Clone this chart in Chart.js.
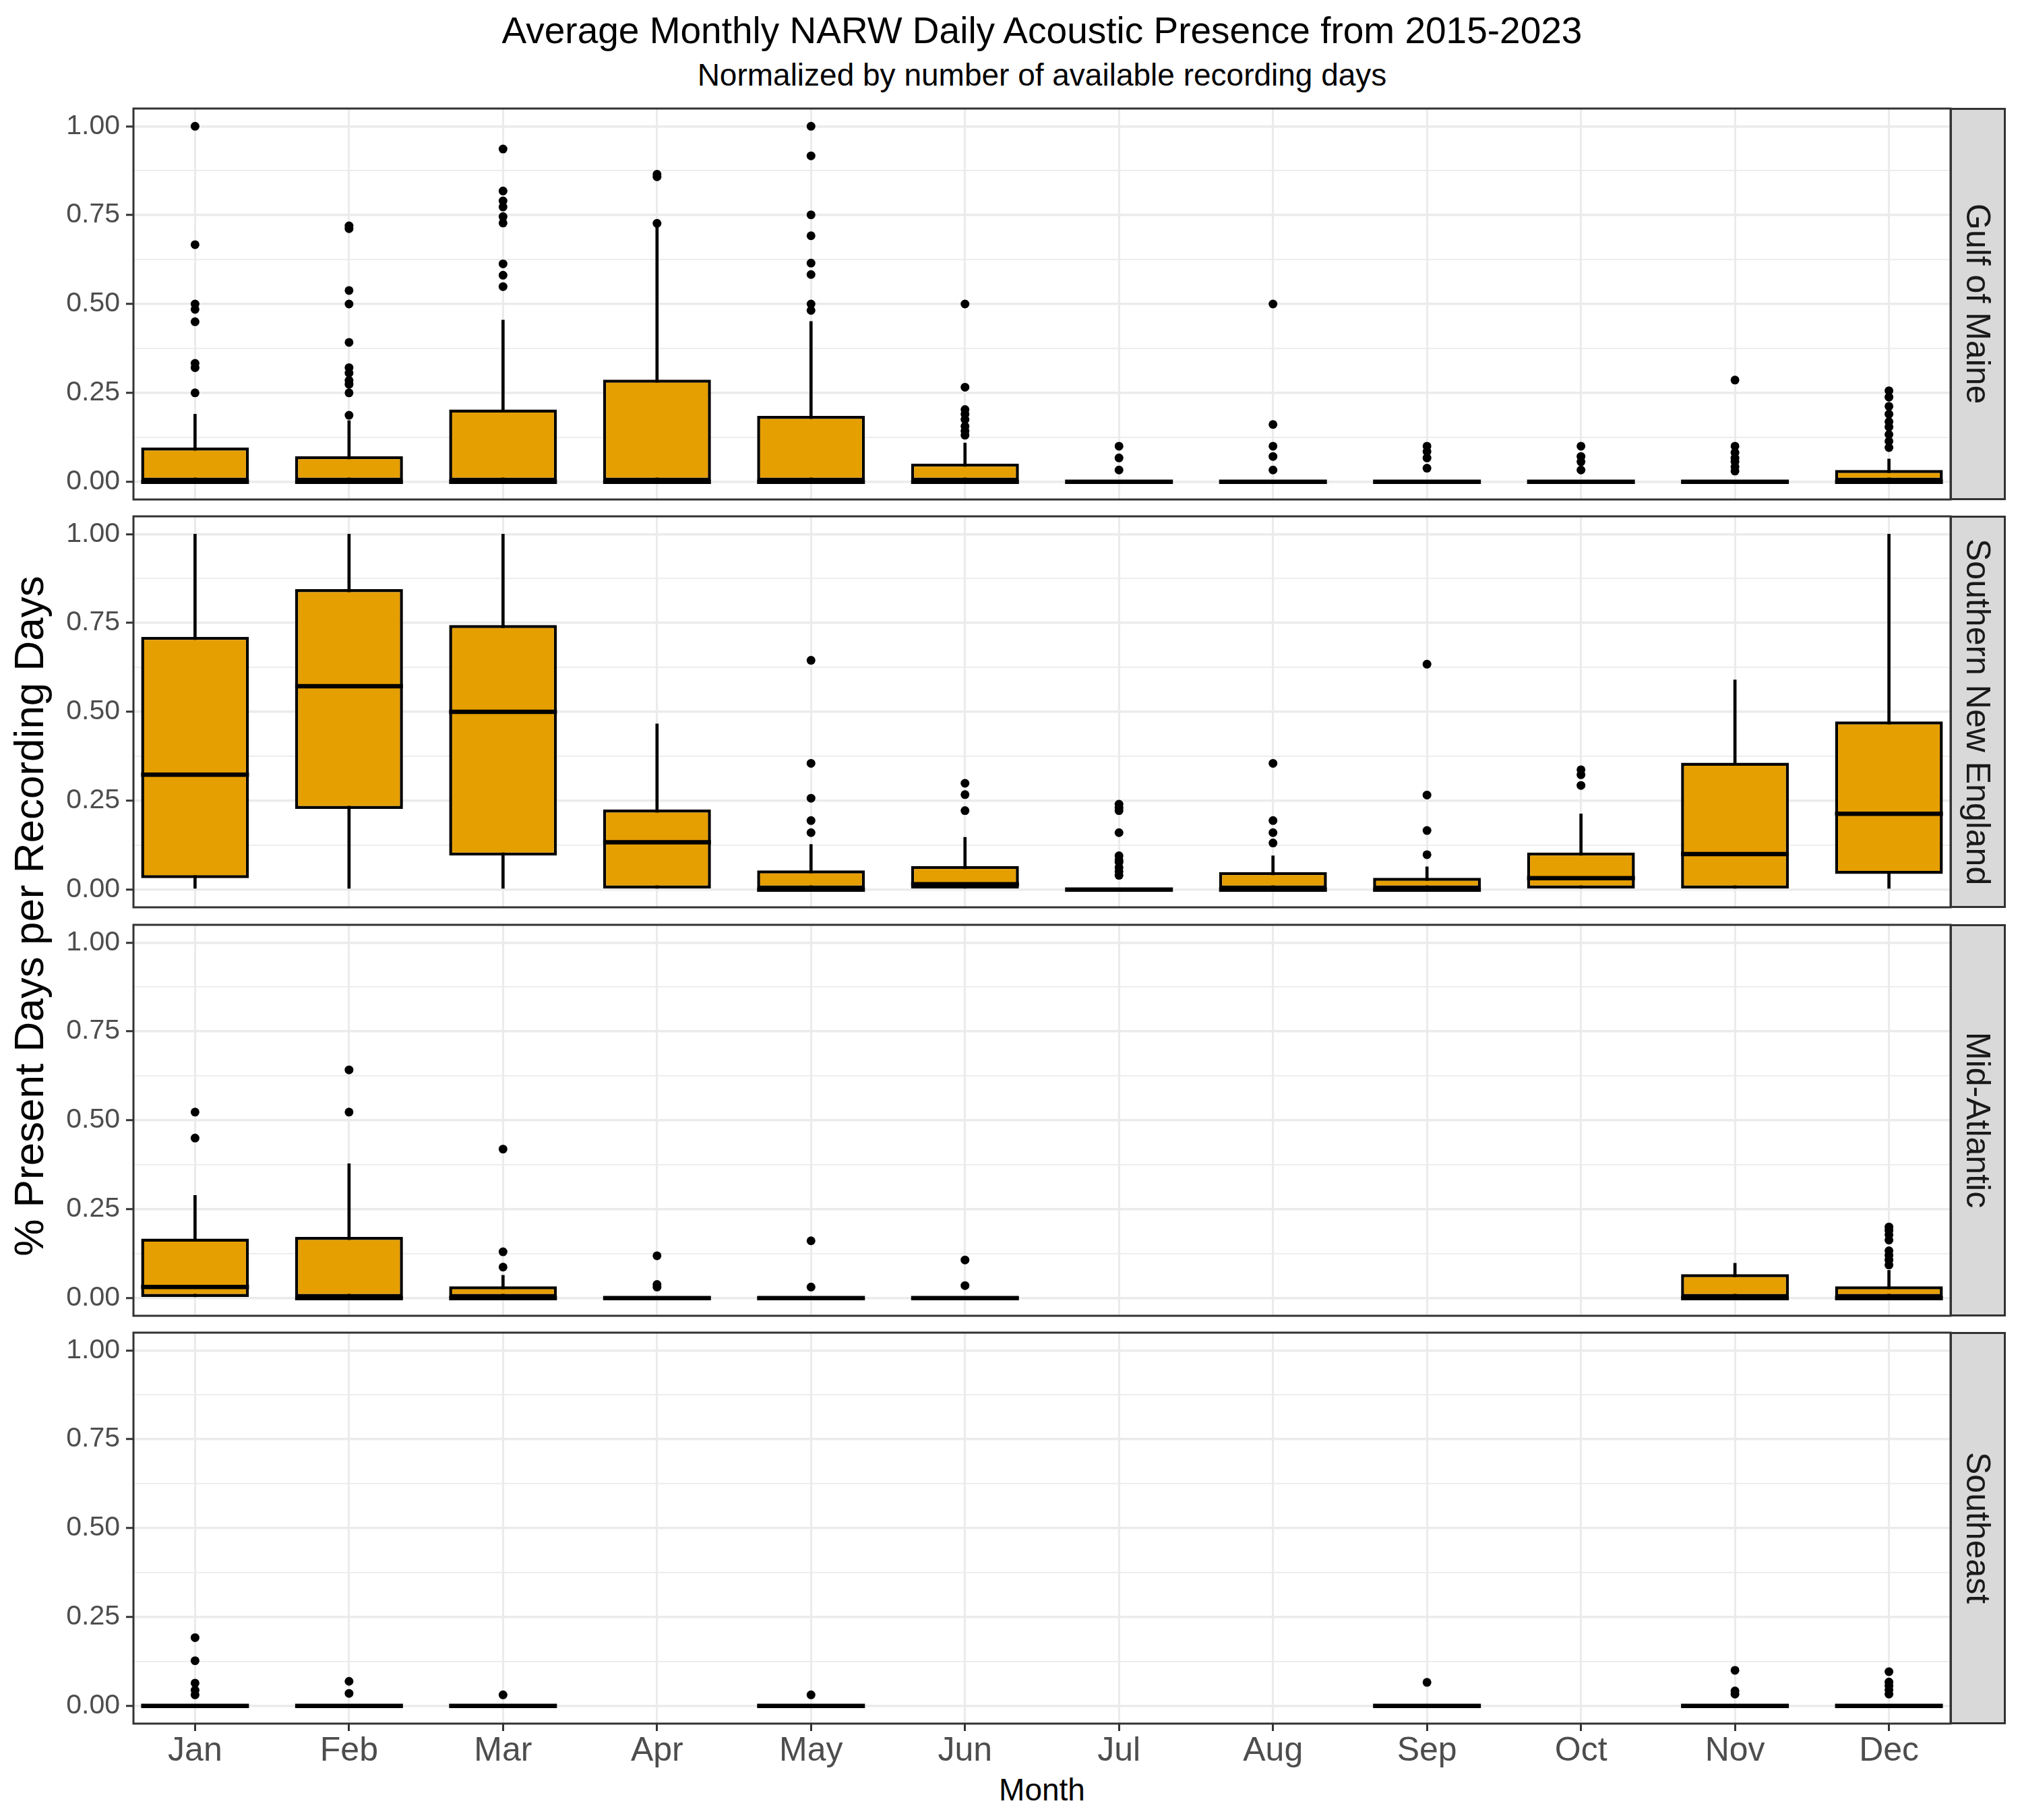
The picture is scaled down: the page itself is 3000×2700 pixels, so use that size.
<!DOCTYPE html>
<html>
<head>
<meta charset="utf-8">
<script src="https://cdn.jsdelivr.net/npm/chart.js@4.4.0/dist/chart.umd.min.js"></script>
<style>
  html, body { margin: 0; padding: 0; background: #fff; }
  #page { position: relative; width: 3000px; height: 2700px; background: #fff; overflow: hidden;
          font-family: 'Liberation Sans', Arial, sans-serif; }
  canvas { position: absolute; left: 0; }
  .txt { position: absolute; white-space: nowrap; line-height: 1; text-align: center; color: #000; }
  .strip { position: absolute; box-sizing: border-box; background: #d9d9d9; border: 3px solid #333;
           display: flex; align-items: center; justify-content: center; }
  .strip span { writing-mode: vertical-rl; font-size: 50px; color: #1a1a1a; line-height: 1; white-space: nowrap; }
</style>
</head>
<body>
<div id="page">
  <div class="txt" style="left:546px;width:2000px;top:18px;font-size:55px;">Average Monthly NARW Daily Acoustic Presence from 2015-2023</div>
  <div class="txt" style="left:546px;width:2000px;top:88px;font-size:46px;">Normalized by number of available recording days</div>
  <div class="txt" style="left:-557px;width:1200px;top:1328px;font-size:62px;transform:rotate(-90deg);">% Present Days per Recording Days</div>
  <div class="txt" style="left:1346px;width:400px;top:2632px;font-size:46px;">Month</div>
</div>
<script>
// Месяцы и регионы
const months = ["Jan", "Feb", "Mar", "Apr", "May", "Jun", "Jul", "Aug", "Sep", "Oct", "Nov", "Dec"];
const regions = ["Gulf of Maine", "Southern New England", "Mid-Atlantic", "Southeast"];
const yMajor = [0, 0.25, 0.5, 0.75, 1];
const yMinor = [0.125, 0.375, 0.625, 0.875];

// Gulf of Maine
const gomLo  = [0, 0, 0, 0, 0, 0, 0, 0, 0, 0, 0, 0];
const gomQ1  = [0, 0, 0, 0, 0, 0, 0, 0, 0, 0, 0, 0];
const gomMed = [0, 0, 0, 0, 0, 0, 0, 0, 0, 0, 0, 0];
const gomQ3  = [0.096, 0.072, 0.203, 0.287, 0.185, 0.051, 0, 0, 0, 0, 0, 0.033];
const gomHi  = [0.19, 0.172, 0.455, 0.72, 0.451, 0.109, 0, 0, 0, 0, 0, 0.064];
const gomOut = [
  [1.0, 0.667, 0.5, 0.485, 0.45, 0.333, 0.321, 0.25],
  [0.72, 0.712, 0.538, 0.5, 0.392, 0.321, 0.306, 0.285, 0.274, 0.25, 0.187],
  [0.936, 0.818, 0.79, 0.773, 0.746, 0.728, 0.613, 0.581, 0.549],
  [0.865, 0.858, 0.727],
  [1.0, 0.917, 0.751, 0.692, 0.615, 0.583, 0.5, 0.482],
  [0.5, 0.266, 0.203, 0.19, 0.175, 0.156, 0.143, 0.131],
  [0.1, 0.067, 0.033],
  [0.5, 0.161, 0.1, 0.071, 0.033],
  [0.1, 0.085, 0.067, 0.038],
  [0.1, 0.071, 0.056, 0.033],
  [0.286, 0.1, 0.082, 0.067, 0.056, 0.042, 0.03],
  [0.256, 0.238, 0.212, 0.19, 0.169, 0.154, 0.133, 0.114, 0.096]
];

// Southern New England
const sneLo  = [0, 0, 0, 0, 0, 0, 0, 0, 0, 0, 0, 0];
const sneQ1  = [0.032, 0.227, 0.0955, 0, 0, 0, 0, 0, 0, 0, 0, 0.044];
const sneMed = [0.323, 0.572, 0.5, 0.133, 0, 0.015, 0, 0, 0, 0.032, 0.1, 0.213];
const sneQ3  = [0.711, 0.845, 0.744, 0.225, 0.054, 0.066, 0, 0.049, 0.033, 0.104, 0.357, 0.473];
const sneHi  = [1, 1, 1, 0.466, 0.127, 0.147, 0, 0.095, 0.064, 0.213, 0.59, 1];
const sneOut = [
  [], [], [], [],
  [0.645, 0.355, 0.257, 0.194, 0.16],
  [0.299, 0.267, 0.222],
  [0.24, 0.23, 0.222, 0.16, 0.095, 0.083, 0.077, 0.062, 0.051, 0.04],
  [0.355, 0.194, 0.16, 0.131],
  [0.634, 0.266, 0.166, 0.098],
  [0.337, 0.323, 0.293],
  [], []
];

// Mid-Atlantic
const midLo  = [0, 0, 0, 0, 0, 0, null, null, null, null, 0, 0];
const midQ1  = [0, 0, 0, 0, 0, 0, null, null, null, null, 0, 0];
const midMed = [0.031, 0, 0, 0, 0, 0, null, null, null, null, 0, 0];
const midQ3  = [0.167, 0.172, 0.033, 0, 0, 0, null, null, null, null, 0.067, 0.033];
const midHi  = [0.289, 0.378, 0.064, 0, 0, 0, null, null, null, null, 0.098, 0.078];
const midOut = [
  [0.523, 0.45],
  [0.642, 0.523],
  [0.419, 0.13, 0.087],
  [0.119, 0.038, 0.031],
  [0.161, 0.031],
  [0.107, 0.035],
  [], [], [], [], [],
  [0.2, 0.19, 0.178, 0.163, 0.133, 0.12, 0.107, 0.093]
];

// Southeast
const seLo  = [0, 0, 0, null, 0, null, null, null, 0, null, 0, 0];
const seQ1  = [0, 0, 0, null, 0, null, null, null, 0, null, 0, 0];
const seMed = [0, 0, 0, null, 0, null, null, null, 0, null, 0, 0];
const seQ3  = [0, 0, 0, null, 0, null, null, null, 0, null, 0, 0];
const seHi  = [0, 0, 0, null, 0, null, null, null, 0, null, 0, 0];
const seOut = [
  [0.192, 0.127, 0.064, 0.044, 0.031],
  [0.069, 0.035],
  [0.031],
  [],
  [0.031],
  [], [], [],
  [0.066],
  [],
  [0.1, 0.042, 0.033],
  [0.096, 0.067, 0.056, 0.045, 0.033]
];

const panels = [
  { name: regions[0], lo: gomLo, q1: gomQ1, med: gomMed, q3: gomQ3, hi: gomHi, out: gomOut },
  { name: regions[1], lo: sneLo, q1: sneQ1, med: sneMed, q3: sneQ3, hi: sneHi, out: sneOut },
  { name: regions[2], lo: midLo, q1: midQ1, med: midMed, q3: midQ3, hi: midHi, out: midOut },
  { name: regions[3], lo: seLo,  q1: seQ1,  med: seMed,  q3: seQ3,  hi: seHi,  out: seOut }
];

// раскладка
const PANEL_TOP = [161, 766, 1372, 1977];
const PANEL_H = 580;
const PLOT_LEFT = 198;
const PLOT_RIGHT = 2894;
const X_AXIS_H = 143;
const FILL = "#E69F00";

const monthPos = months.map((m, i) => i + 1);
const yTicks = [...yMajor, ...yMinor].sort((a, b) => a - b);
const isMajor = (v) => Math.abs(v * 4 - Math.round(v * 4)) < 1e-9;

function ranges(lo, hi) {
  return months.map((m, i) => lo[i] == null ? null : { x: i + 1, y: [lo[i], hi[i]] }).filter(Boolean);
}
function points(vals) {
  return months.map((m, i) => vals[i] == null ? null : { x: i + 1, y: vals[i] }).filter(Boolean);
}
function outPoints(out) {
  const pts = [];
  out.forEach((vs, i) => vs.forEach((v) => pts.push({ x: i + 1, y: v })));
  return pts;
}

const panelBorder = {
  id: "panelBorder",
  afterDraw(chart) {
    const { ctx, chartArea: a } = chart;
    ctx.save();
    ctx.strokeStyle = "#333";
    ctx.lineWidth = 3;
    ctx.strokeRect(a.left, a.top, a.right - a.left, a.bottom - a.top);
    ctx.restore();
  }
};

// без автопаддинга меток: область графика ровно по панели
function noPad(a) {
  a.paddingTop = 0; a.paddingBottom = 0; a.paddingLeft = 0; a.paddingRight = 0;
}

Chart.defaults.font.family = "'Liberation Sans', Arial, sans-serif";
const page = document.getElementById("page");

panels.forEach((p, k) => {
  const last = k === panels.length - 1;
  const padT = 3, padR = 3, padB = last ? 0 : 3;
  const cv = document.createElement("canvas");
  cv.width = PLOT_RIGHT + padR;
  cv.height = padT + PANEL_H + (last ? X_AXIS_H : padB);
  cv.style.top = (PANEL_TOP[k] - padT) + "px";
  page.appendChild(cv);

  new Chart(cv, {
    type: "bar",
    data: {
      datasets: [
        { type: "bar", data: ranges(p.lo, p.hi), backgroundColor: "#000", borderWidth: 0,
          barThickness: 4, grouped: false, order: 4 },
        { type: "bar", data: ranges(p.q1, p.q3), backgroundColor: FILL, borderColor: "#000", borderWidth: 4.5,
          borderSkipped: false, barPercentage: 0.7, categoryPercentage: 1, grouped: false, order: 3 },
        { type: "scatter", data: points(p.med), pointStyle: "line", pointRadius: 80,
          pointBorderWidth: 6.5, pointBorderColor: "#000", order: 2 },
        { type: "scatter", data: outPoints(p.out), pointRadius: 6.5, pointBackgroundColor: "#000",
          pointBorderWidth: 0, order: 1 }
      ]
    },
    options: {
      responsive: false,
      animation: false,
      events: [],
      layout: { autoPadding: false, padding: { top: padT, right: padR, bottom: padB, left: 0 } },
      plugins: { legend: { display: false }, tooltip: { enabled: false } },
      scales: {
        x: {
          type: "linear", min: 0.6, max: 12.4, bounds: "data", offset: false,
          afterBuildTicks: (a) => { a.ticks = monthPos.map((v) => ({ value: v })); },
          afterFit: (a) => { a.height = last ? X_AXIS_H : 0; noPad(a); },
          border: { display: false },
          grid: { offset: false, color: "#ebebeb", lineWidth: 3, drawTicks: last, tickLength: 11,
                  tickColor: "#333", tickWidth: 3 },
          ticks: { display: last, autoSkip: false, maxRotation: 0, padding: 0, color: "#4d4d4d",
                   font: { size: 50 }, callback: (v, i) => months[i] }
        },
        y: {
          min: -0.05, max: 1.05, bounds: "data",
          afterBuildTicks: (a) => { a.ticks = yTicks.map((v) => ({ value: v })); },
          afterFit: (a) => { a.width = PLOT_LEFT; noPad(a); },
          border: { display: false },
          grid: {
            color: "#ebebeb",
            lineWidth: (c) => (c.tick && isMajor(c.tick.value) ? 3.5 : 1.8),
            tickLength: 11,
            tickColor: (c) => (c.tick && isMajor(c.tick.value) ? "#333" : "rgba(0,0,0,0)"),
            tickWidth: 3
          },
          ticks: { padding: 9, color: "#4d4d4d", font: { size: 41 },
                   callback: (v) => (isMajor(v) ? v.toFixed(2) : "") }
        }
      }
    },
    plugins: [panelBorder]
  });

  const strip = document.createElement("div");
  strip.className = "strip";
  strip.style.left = (PLOT_RIGHT - 1) + "px";
  strip.style.top = (PANEL_TOP[k] - 1) + "px";
  strip.style.width = "83px";
  strip.style.height = (PANEL_H + 2) + "px";
  strip.innerHTML = "<span>" + p.name + "</span>";
  page.appendChild(strip);
});
</script>
</body>
</html>
